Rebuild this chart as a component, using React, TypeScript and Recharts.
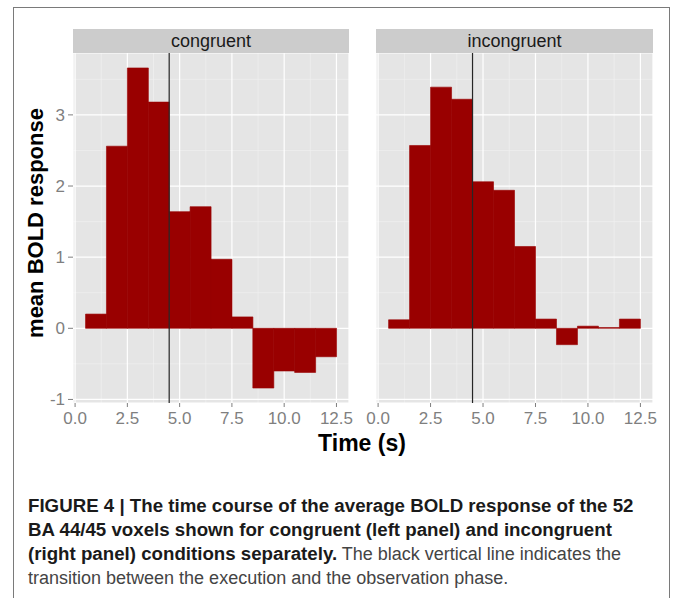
import { BarChart, Bar, XAxis, YAxis, CartesianGrid, ReferenceLine } from 'recharts'

// time bins (s), one bar per second
const timeBins = [1, 2, 3, 4, 5, 6, 7, 8, 9, 10, 11, 12]
const congruentValues = [0.2, 2.56, 3.66, 3.18, 1.64, 1.71, 0.97, 0.16, -0.84, -0.6, -0.62, -0.4]
const incongruentValues = [0.12, 2.57, 3.39, 3.22, 2.06, 1.94, 1.15, 0.13, -0.23, 0.03, 0.01, 0.13]

const xTicks = [0, 2.5, 5, 7.5, 10, 12.5]
const xMinor = [1.25, 3.75, 6.25, 8.75, 11.25]
const yTicks = [-1, 0, 1, 2, 3]
const yMinor = [-0.5, 0.5, 1.5, 2.5, 3.5]
const xDomain: [number, number] = [-0.1, 13.1]
const yDomain: [number, number] = [-1.05, 3.87]
const phaseChange = 4.5

const captionLines = [
  { bold: 'FIGURE 4 | The time course of the average BOLD response of the 52', rest: '' },
  { bold: 'BA 44/45 voxels shown for congruent (left panel) and incongruent', rest: '' },
  { bold: '(right panel) conditions separately.', rest: ' The black vertical line indicates the' },
  { bold: '', rest: 'transition between the execution and the observation phase.' },
]

const FONT = '"Liberation Sans", Arial, Helvetica, sans-serif'
const BAR_COLOR = '#990000'
const TICK_COLOR = '#7f7f7f'

const PLOT_TOP = 53
const CHART_H = 440

const toData = (vals: number[]) => timeBins.map((t, i) => ({ time: t, value: vals[i] }))

// minor grid positions, through the axis scale when available
const minorX = (props: any) => {
  const sc = props?.xAxis?.scale
  if (typeof sc === 'function') return xMinor.map((v) => sc(v))
  const o = props.offset
  return xMinor.map((v) => o.left + ((v - xDomain[0]) / (xDomain[1] - xDomain[0])) * o.width)
}
const minorY = (props: any) => {
  const sc = props?.yAxis?.scale
  if (typeof sc === 'function') return yMinor.map((v) => sc(v))
  const o = props.offset
  return yMinor.map((v) => o.top + ((yDomain[1] - v) / (yDomain[1] - yDomain[0])) * o.height)
}

function Panel({ data, showY, left, width, marginLeft, marginRight }: any) {
  return (
    <div style={{ position: 'absolute', left, top: 0 }}>
      <BarChart
        width={width}
        height={CHART_H}
        data={data}
        margin={{ top: PLOT_TOP, right: marginRight, bottom: 0, left: marginLeft }}
        barCategoryGap={0}
        barGap={0}
      >
        <CartesianGrid
          fill="#e5e5e5"
          stroke="#f2f2f2"
          strokeWidth={0.6}
          verticalCoordinatesGenerator={minorX}
          horizontalCoordinatesGenerator={minorY}
        />
        <CartesianGrid fill="none" stroke="#ffffff" strokeWidth={1.2} />
        <XAxis
          type="number"
          dataKey="time"
          domain={xDomain}
          ticks={xTicks}
          allowDataOverflow
          tickFormatter={(v: number) => v.toFixed(1)}
          axisLine={false}
          tickSize={4}
          tickMargin={5}
          height={37}
          tick={{ fill: TICK_COLOR, fontSize: 17, fontFamily: FONT }}
          tickLine={{ stroke: TICK_COLOR }}
          interval={0}
        />
        <YAxis
          type="number"
          domain={yDomain}
          ticks={yTicks}
          allowDataOverflow
          hide={!showY}
          width={73}
          axisLine={false}
          tickSize={5}
          tickMargin={3}
          tick={{ fill: TICK_COLOR, fontSize: 17, fontFamily: FONT }}
          tickLine={{ stroke: TICK_COLOR }}
          interval={0}
        />
        <Bar
          dataKey="value"
          fill={BAR_COLOR}
          stroke={BAR_COLOR}
          strokeWidth={0.6}
          isAnimationActive={false}
        />
        <ReferenceLine x={phaseChange} stroke="#262626" strokeWidth={1.2} />
      </BarChart>
    </div>
  )
}

function Strip({ label, left, width }: any) {
  return (
    <div
      style={{
        position: 'absolute',
        left,
        top: 29,
        width,
        height: 24,
        background: '#cccccc',
        color: '#1a1a1a',
        fontSize: 18,
        fontFamily: FONT,
        lineHeight: '24px',
        textAlign: 'center',
      }}
    >
      {label}
    </div>
  )
}

export default function App() {
  return (
    <div
      style={{
        position: 'absolute',
        left: 0,
        top: 0,
        width: 673,
        height: 598,
        overflow: 'hidden',
        background: '#ffffff',
        fontFamily: FONT,
      }}
    >
      {/* frame */}
      <div
        style={{
          position: 'absolute',
          left: 13,
          top: 7,
          width: 657,
          height: 620,
          border: '1.5px solid #7a7a7a',
          boxSizing: 'border-box',
        }}
      />

      <Panel data={toData(congruentValues)} showY left={0} width={360} marginLeft={0} marginRight={11} />
      <Panel data={toData(incongruentValues)} showY={false} left={360} width={313} marginLeft={16} marginRight={20} />

      <Strip label="congruent" left={73} width={276} />
      <Strip label="incongruent" left={376} width={277} />

      {/* axis titles */}
      <div
        style={{
          position: 'absolute',
          left: 36,
          top: 223,
          transform: 'translate(-50%, -50%) rotate(-90deg)',
          fontSize: 22,
          fontWeight: 'bold',
          whiteSpace: 'nowrap',
          color: '#000',
        }}
      >
        mean BOLD response
      </div>
      <div
        style={{
          position: 'absolute',
          left: 362,
          top: 443,
          transform: 'translate(-50%, -50%)',
          fontSize: 23,
          fontWeight: 'bold',
          whiteSpace: 'nowrap',
          color: '#000',
        }}
      >
        Time (s)
      </div>

      {/* caption */}
      <div
        style={{
          position: 'absolute',
          left: 28,
          top: 494,
          fontSize: 18,
          lineHeight: '24px',
          color: '#444444',
          whiteSpace: 'nowrap',
        }}
      >
        {captionLines.map((l, i) => (
          <div key={i}>
            <span style={{ fontWeight: 'bold', fontSize: 18.7, color: '#1a1a1a' }}>{l.bold}</span>
            <span>{l.rest}</span>
          </div>
        ))}
      </div>
    </div>
  )
}
